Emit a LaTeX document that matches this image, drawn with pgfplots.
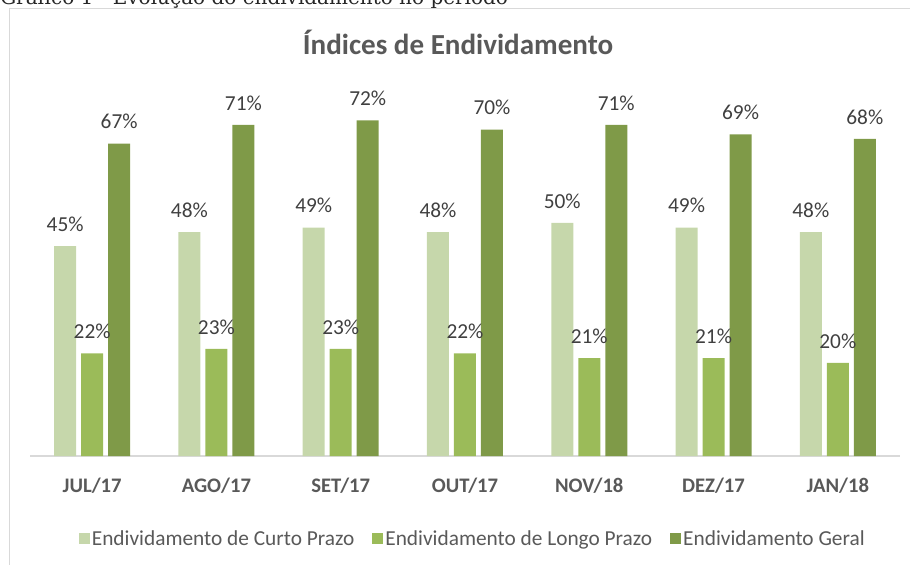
\documentclass[border=0pt]{standalone}
\usepackage{fontspec}
\setmainfont{Carlito}
\newfontfamily\capfont{DejaVu Serif}
\usepackage{pgfplots}
\pgfplotsset{compat=1.18}
\definecolor{cLight}{HTML}{C6D7AB}
\definecolor{cMid}{HTML}{9BBB59}
\definecolor{cDark}{HTML}{7F9A48}
\definecolor{txt}{HTML}{595959}
\definecolor{lbl}{HTML}{404040}
\definecolor{frame}{HTML}{D9D9D9}
\begin{document}
\begin{tikzpicture}[x=0.75pt,y=0.75pt]
\useasboundingbox (0,0) rectangle (910,564);
% caption (cut at the top)
\node[anchor=base west,inner sep=0pt,text=black!85] at (0,559) {\capfont\fontsize{15}{17}\selectfont Gráfico 1 - Evolução do endividamento no período};
% chart frame
\draw[frame,line width=0.75pt] (9,-20) |- (930,555);
% title
\node[anchor=base,inner sep=0pt,text=txt] at (458,509) {\bfseries\fontsize{21.8}{26}\selectfont Índices de Endividamento};
\begin{axis}[
  at={(22.5pt,81pt)}, anchor=south west,
  scale only axis,
  width=652.5pt, height=279.75pt,
  ymin=0, ymax=80,
  xmin=-0.5, xmax=6.5,
  axis y line=none,
  axis x line=bottom,
  x axis line style={draw=frame,line width=1pt,-},
  major tick length=0pt,
  ytick=\empty,
  xtick=data,
  xticklabels={JUL/17,AGO/17,SET/17,OUT/17,NOV/18,DEZ/17,JAN/18},
  xticklabel style={anchor=base,yshift=-27pt,text=txt,font=\bfseries\fontsize{15.5}{18}\selectfont},
  ybar=3.75pt,
  bar width=16.5pt,
  nodes near coords={\pgfmathprintnumber[assume math mode=true]{\pgfplotspointmeta}\%},
  every node near coord/.append style={anchor=base,yshift=11pt,text=lbl,font=\fontsize{16}{19}\selectfont},
  legend columns=3,
  legend style={at={(0.509,-0.2225)},anchor=center,draw=none,fill=none,
    font=\fontsize{16}{19}\selectfont,text=txt,
    /tikz/every even column/.append style={column sep=12pt},
    /tikz/every odd column/.append style={column sep=0pt},
    inner sep=0pt, nodes={inner xsep=1.5pt}},
  legend image code/.code={\fill[#1] (0pt,-3.9pt) rectangle (8.25pt,4.35pt);},
  clip=false,
]
\addplot[fill=cLight,draw=none] coordinates {(0,45) (1,48) (2,49) (3,48) (4,50) (5,49) (6,48)};
\addplot[fill=cMid,draw=none] coordinates {(0,22) (1,23) (2,23) (3,22) (4,21) (5,21) (6,20)};
\addplot[fill=cDark,draw=none] coordinates {(0,67) (1,71) (2,72) (3,70) (4,71) (5,69) (6,68)};
\legend{Endividamento de Curto Prazo,Endividamento de Longo Prazo,Endividamento Geral}
\end{axis}
\end{tikzpicture}
\end{document}
